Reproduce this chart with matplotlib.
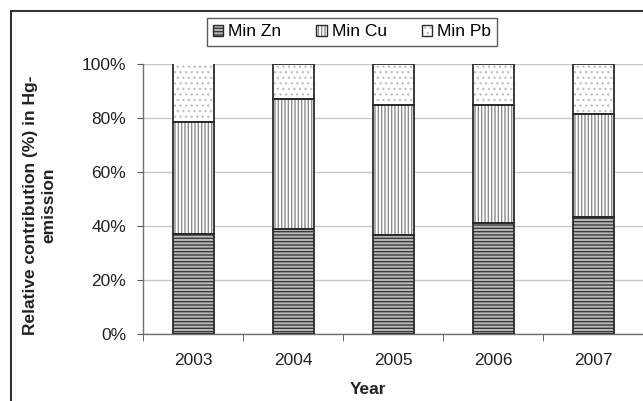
import matplotlib.pyplot as plt
from matplotlib.lines import Line2D
from matplotlib.patches import Patch

plt.rcParams['font.family'] = ['Liberation Sans', 'DejaVu Sans']
plt.rcParams['hatch.linewidth'] = 1.0

years = ['2003', '2004', '2005', '2006', '2007']
# share of Hg emission per source, percent
min_zn = [36.8, 39.0, 36.5, 41.1, 43.2]
min_cu = [41.5, 47.8, 48.0, 43.5, 38.3]
min_pb = [21.7, 13.2, 15.5, 15.4, 18.5]

series = [
    ('Min Zn', min_zn, '#b8b8b8', '#3a3a3a', '-----'),
    ('Min Cu', min_cu, '#ffffff', '#8c8c8c', '|||||'),
    ('Min Pb', min_pb, '#ffffff', '#c4c4c4', '...'),
]

fig = plt.figure(figsize=(6.43, 4.01), dpi=100)
ax = fig.add_axes([143 / 643, 67 / 401, 500 / 643, 270.5 / 401])

x = list(range(len(years)))
width = 0.41
bottom = [0.0] * len(years)
handles = []
for name, vals, face, hcol, hatch in series:
    # hatch takes the edge colour, so draw fill+hatch first, outline after
    ax.bar(x, vals, width, bottom=bottom, color=face, edgecolor=hcol,
           hatch=hatch, linewidth=0, zorder=2)
    ax.bar(x, vals, width, bottom=bottom, fill=False, edgecolor='#2b2b2b',
           linewidth=1.3, zorder=3)
    bottom = [b + v for b, v in zip(bottom, vals)]
    handles.append((Patch(facecolor=face, edgecolor=hcol, hatch=hatch,
                          linewidth=0),
                    Patch(fill=False, edgecolor='#2b2b2b', linewidth=1.0)))

ax.set_xlim(-0.5, len(years) - 0.5)
ax.set_ylim(0, 100)
ax.set_yticks(range(0, 101, 20))
ax.set_yticklabels([f'{v}%' for v in range(0, 101, 20)])
ax.yaxis.grid(True, color='#c8c8c8', linewidth=1.0, zorder=0)
ax.set_axisbelow(True)

ax.set_xticks(x)
ax.set_xticklabels(years)
ax.set_xticks([i - 0.5 for i in range(len(years) + 1)], minor=True)
ax.tick_params(axis='x', which='major', length=0, pad=14,
               labelsize=12.5, labelcolor='#222222')
ax.tick_params(axis='x', which='minor', length=5, direction='out',
               color='#555555')
ax.tick_params(axis='y', length=4, direction='out', color='#555555',
               labelsize=12.5, labelcolor='#222222', pad=8)

for side in ('top', 'right'):
    ax.spines[side].set_visible(False)
for side in ('left', 'bottom'):
    ax.spines[side].set_color('#707070')
    ax.spines[side].set_linewidth(1.0)

leg = fig.legend(handles, [s[0] for s in series], loc='center',
                 bbox_to_anchor=(352 / 643, 1 - 32 / 401), ncol=3,
                 frameon=True, fancybox=False, fontsize=12.5,
                 handlelength=0.6, handleheight=0.6, handletextpad=0.3,
                 columnspacing=2.0, borderpad=0.35)
leg.get_frame().set_edgecolor('#333333')
leg.get_frame().set_linewidth(1.0)

fig.text(40 / 643, 1 - 205 / 401, 'Relative contribution (%) in Hg-\nemission',
         rotation=90, ha='center', va='center', fontsize=12.5,
         fontweight='bold', color='#222222', linespacing=1.3)
fig.text(368 / 643, 1 - 389 / 401, 'Year', ha='center', va='center',
         fontsize=12.5, fontweight='bold', color='#222222')

# chart frame, only the left and top edges fall inside the image
fig.add_artist(Line2D([11 / 643, 11 / 643], [0, 1 - 11 / 401],
                      transform=fig.transFigure, color='#333333', lw=1.5))
fig.add_artist(Line2D([11 / 643, 1], [1 - 11 / 401, 1 - 11 / 401],
                      transform=fig.transFigure, color='#333333', lw=1.5))

fig.savefig('out.png', dpi=100)
